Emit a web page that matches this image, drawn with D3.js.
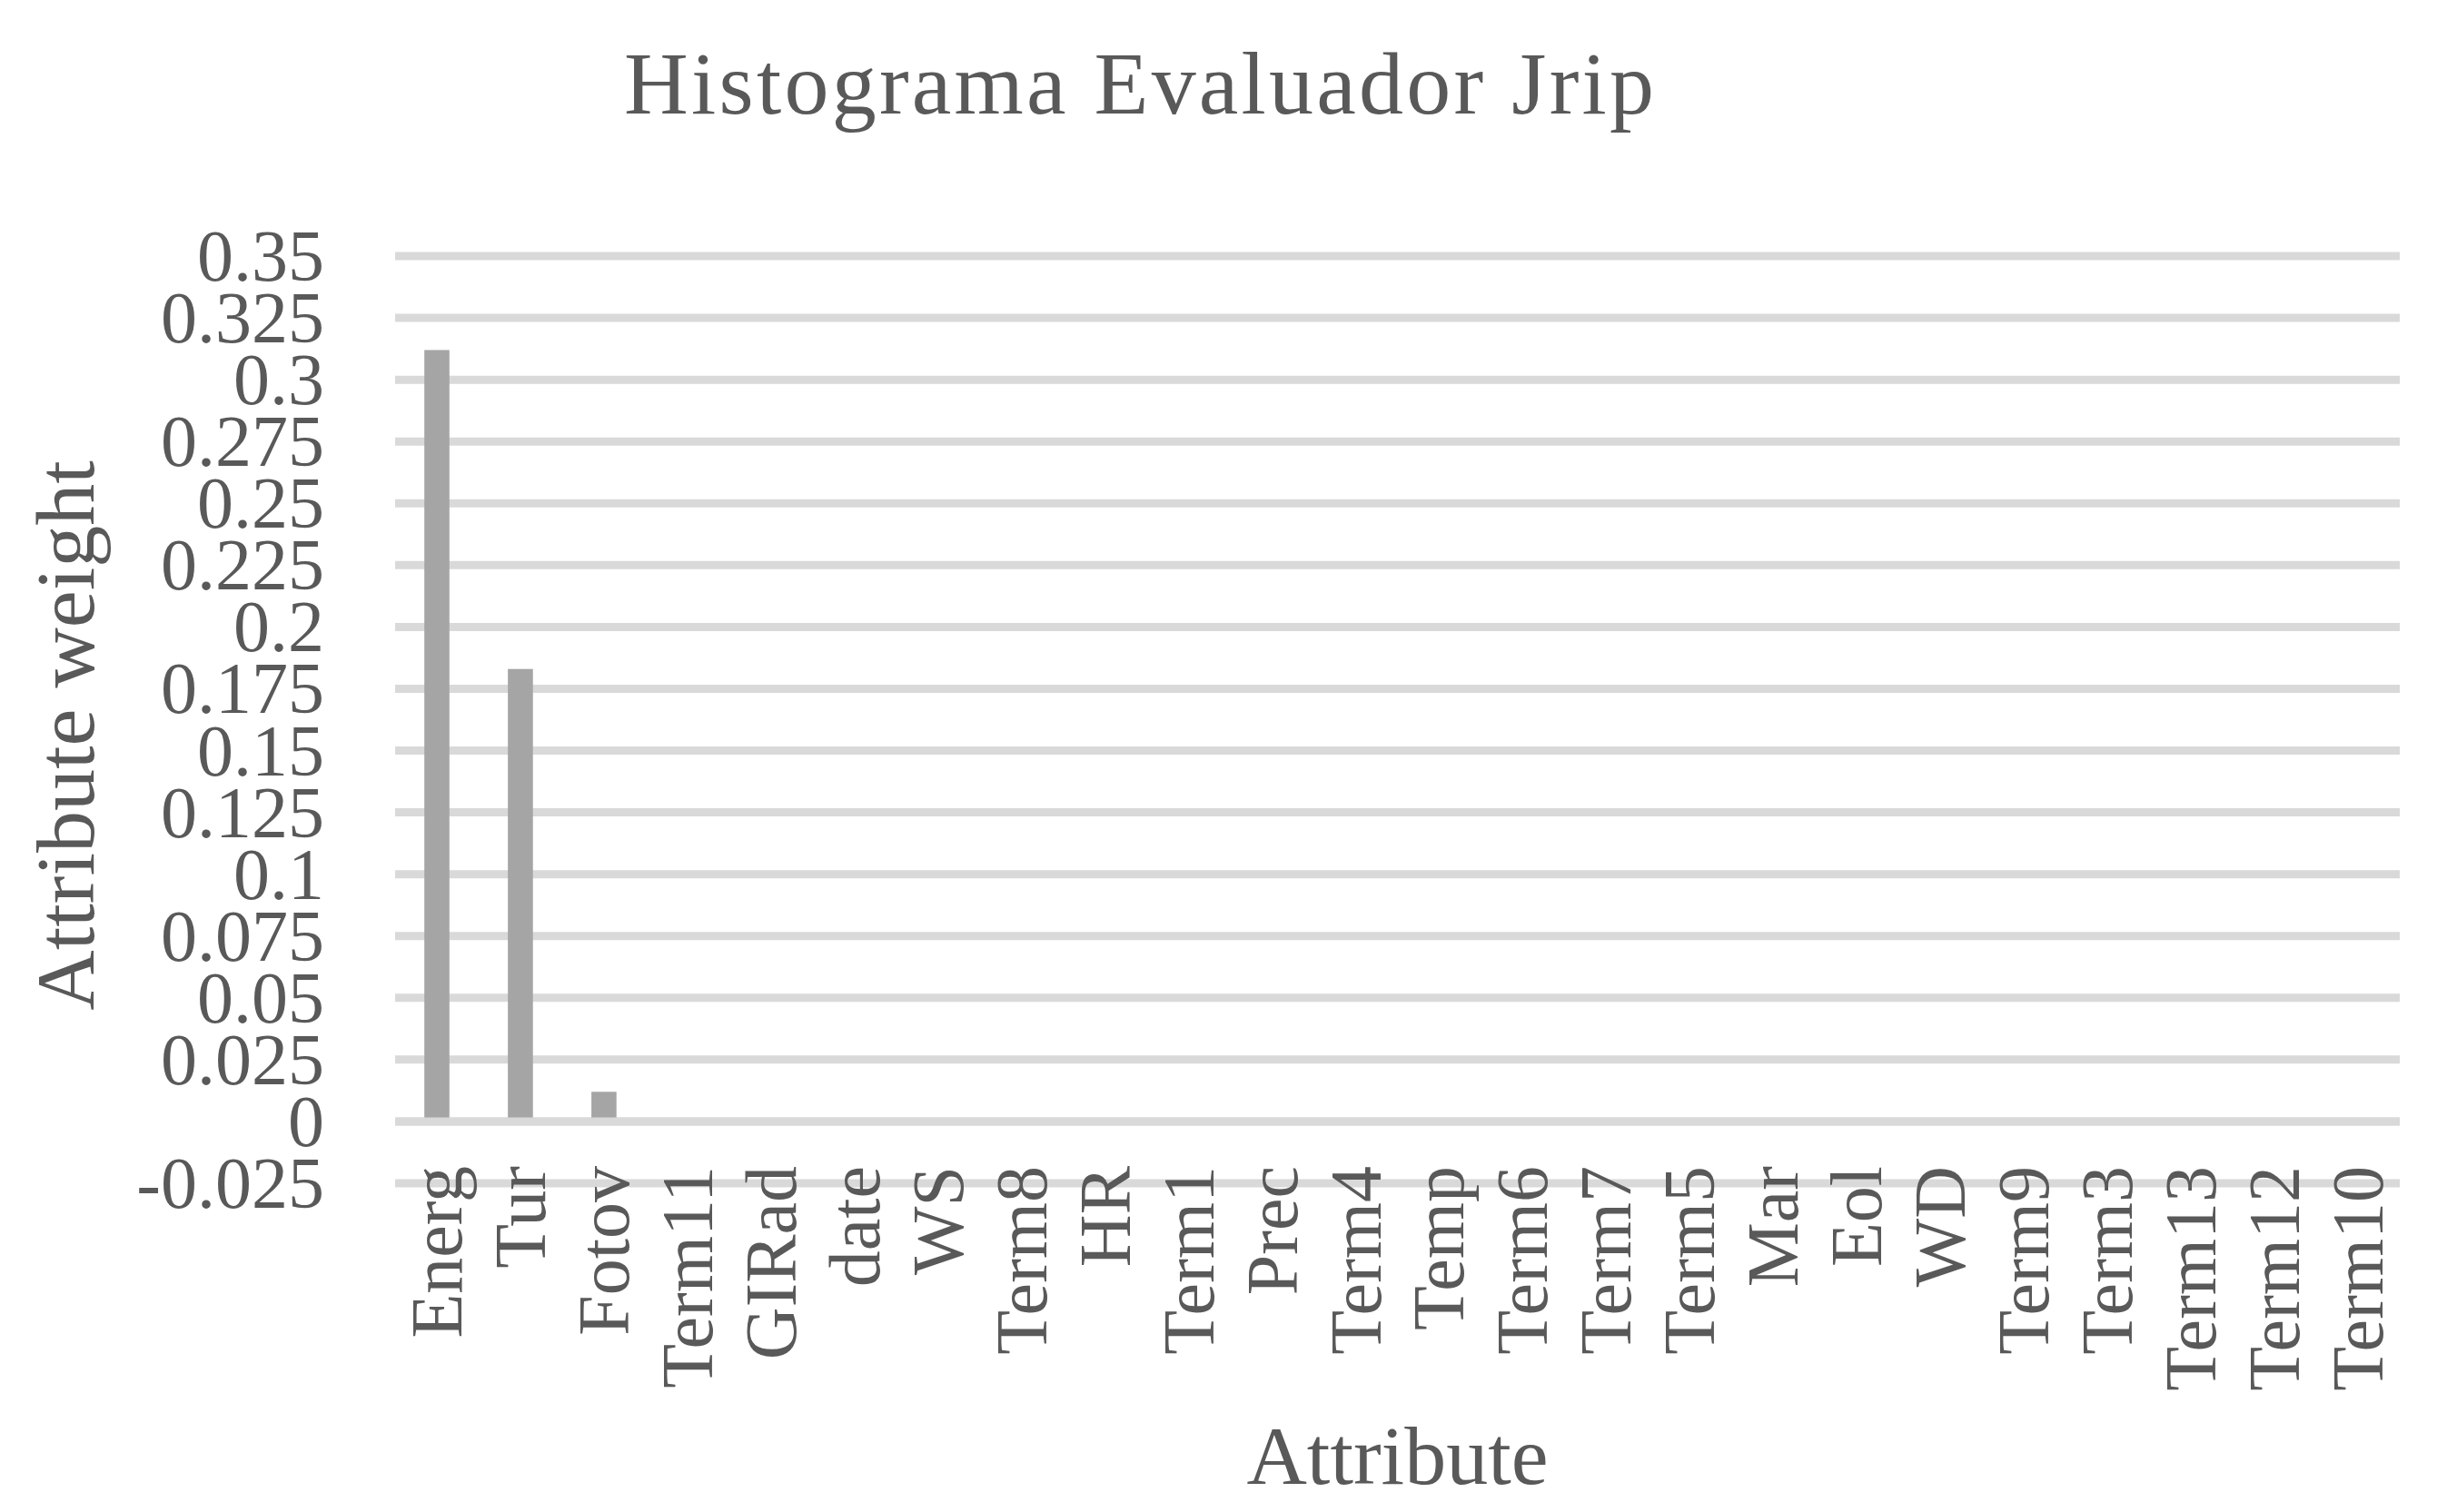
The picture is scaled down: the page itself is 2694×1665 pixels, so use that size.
<!DOCTYPE html>
<html>
<head>
<meta charset="utf-8">
<script src="https://cdn.jsdelivr.net/npm/d3@7"></script>
<style>
  html, body { margin: 0; padding: 0; background: #ffffff; }
  svg { display: block; }
</style>
</head>
<body>
<svg id="chart" width="2694" height="1665"></svg>
<script>
// ---- data ----
const categories = ["Energ", "Tur", "Fotov", "Term11", "GIRad", "date", "WS", "Term8", "HR", "Term1",
  "Prec", "Term4", "Temp", "Term6", "Term7", "Term5", "Mar", "Eol", "WD", "Term9",
  "Term3", "Term13", "Term12", "Term10"];
const weights = [0.312, 0.183, 0.012, 0, 0, 0, 0, 0, 0, 0,
  0, 0, 0, 0, 0, 0, 0, 0, 0, 0,
  0, 0, 0, 0];
const yTicks = [-0.025, 0, 0.025, 0.05, 0.075, 0.1, 0.125, 0.15, 0.175, 0.2, 0.225, 0.25, 0.275, 0.3, 0.325, 0.35];
const yTickLabels = ["-0.025", "0", "0.025", "0.05", "0.075", "0.1", "0.125", "0.15", "0.175", "0.2", "0.225", "0.25", "0.275", "0.3", "0.325", "0.35"];
const titleText = "Histograma Evaluador Jrip";
const xTitleText = "Attribute";
const yTitleText = "Attribute weight";

// ---- layout ----
const plotLeft = 435, plotRight = 2642, plotTop = 282, plotBottom = 1303;
const textColor = "#595959", gridColor = "#d9d9d9", barColor = "#a5a5a5";
const font = "'Liberation Serif', 'Times New Roman', serif";

const svg = d3.select("#chart");

const x = d3.scaleBand().domain(categories).range([plotLeft, plotRight]).padding(0);
const y = d3.scaleLinear().domain([-0.025, 0.35]).range([plotBottom, plotTop]);

// gridlines
svg.append("g").selectAll("line").data(yTicks).join("line")
  .attr("x1", plotLeft).attr("x2", plotRight)
  .attr("y1", d => y(d)).attr("y2", d => y(d))
  .attr("stroke", gridColor).attr("stroke-width", 9);

// bars
const barW = x.bandwidth() * 0.3;
svg.append("g").selectAll("rect").data(categories).join("rect")
  .attr("x", (c) => x(c) + (x.bandwidth() - barW) / 2)
  .attr("width", barW)
  .attr("y", (c, i) => Math.min(y(weights[i]), y(0)))
  .attr("height", (c, i) => Math.abs(y(0) - y(weights[i])))
  .attr("fill", barColor);

// zero line on top
svg.append("line")
  .attr("x1", plotLeft).attr("x2", plotRight)
  .attr("y1", y(0)).attr("y2", y(0))
  .attr("stroke", gridColor).attr("stroke-width", 9);

// y tick labels
svg.append("g").selectAll("text").data(yTicks).join("text")
  .attr("x", 357)
  .attr("y", d => y(d))
  .attr("text-anchor", "end")
  .attr("dominant-baseline", "central")
  .attr("font-family", font)
  .attr("font-size", 80)
  .attr("fill", textColor)
  .text((d, i) => yTickLabels[i]);

// x category labels (rotated)
svg.append("g").selectAll("text").data(categories).join("text")
  .attr("transform", c => `translate(${x(c) + x.bandwidth() / 2},1284) rotate(-90)`)
  .attr("text-anchor", "end")
  .attr("dominant-baseline", "central")
  .attr("font-family", font)
  .attr("font-size", 80)
  .attr("fill", textColor)
  .text(c => c);

// title
svg.append("text")
  .attr("x", 1254).attr("y", 125)
  .attr("text-anchor", "middle")
  .attr("font-family", font)
  .attr("font-size", 98)
  .attr("textLength", 1134)
  .attr("lengthAdjust", "spacing")
  .attr("fill", textColor)
  .text(titleText);

// x axis title
svg.append("text")
  .attr("x", (plotLeft + plotRight) / 2).attr("y", 1634)
  .attr("text-anchor", "middle")
  .attr("font-family", font)
  .attr("font-size", 92)
  .attr("fill", textColor)
  .text(xTitleText);

// y axis title
svg.append("text")
  .attr("transform", "translate(103,810) rotate(-90)")
  .attr("text-anchor", "middle")
  .attr("font-family", font)
  .attr("font-size", 92)
  .attr("fill", textColor)
  .text(yTitleText);
</script>
</body>
</html>
